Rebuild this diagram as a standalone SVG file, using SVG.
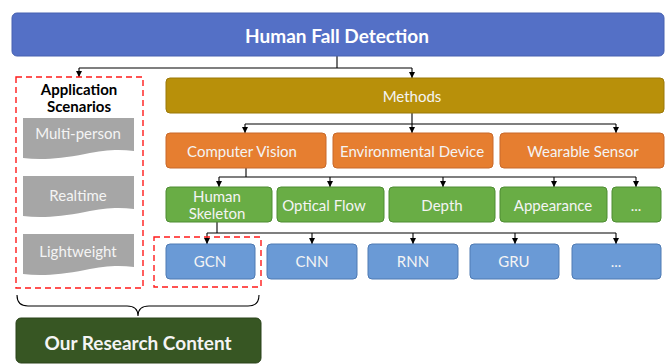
<svg xmlns="http://www.w3.org/2000/svg" width="667" height="364" viewBox="0 0 667 364">
<defs>
<marker id="ah" viewBox="0 0 10 10" refX="10" refY="5" markerWidth="6" markerHeight="6" markerUnits="userSpaceOnUse" orient="auto">
<path d="M0,0 L10,5 L0,10 Z" fill="#000"/>
</marker>
<style>
text{font-family:Lato,"Open Sans","Liberation Sans",sans-serif;text-anchor:middle;dominant-baseline:central}
.w{fill:#f4f4f4;font-size:15px}
.b{font-weight:bold}
.con{fill:none;stroke:#000;stroke-width:1.1}
.arr{fill:none;stroke:#000;stroke-width:1.1;marker-end:url(#ah)}
.dash{fill:none;stroke:#ff1a1a;stroke-width:1.4;stroke-dasharray:6,4}
.org{fill:#E67E30;stroke:#C8692A;stroke-width:1}
.grn{fill:#69AD45;stroke:#4E8C33;stroke-width:1}
.blu{fill:#6A9AD6;stroke:#4E7AB3;stroke-width:1}
.gry{fill:#A6A6A6}
</style>
</defs>
<g id="connectors">
<path class="con" d="M337,56 V68 M79,68 H412"/>
<path class="arr" d="M79,68 V77"/>
<path class="arr" d="M412,68 V78"/>
<path class="con" d="M412,113 V124 M245,124 H616"/>
<path class="arr" d="M245,124 V133"/>
<path class="arr" d="M412,124 V133"/>
<path class="arr" d="M616,124 V133"/>
<path class="con" d="M246,168 V177 M219,177 H636"/>
<path class="arr" d="M219,177 V187"/>
<path class="arr" d="M330,177 V187"/>
<path class="arr" d="M443,177 V187"/>
<path class="arr" d="M554,177 V187"/>
<path class="arr" d="M636,177 V187"/>
<path class="con" d="M217,222 V233 M207,233 H616"/>
<path class="arr" d="M207,233 V244"/>
<path class="arr" d="M312,233 V244"/>
<path class="arr" d="M413,233 V244"/>
<path class="arr" d="M515,233 V244"/>
<path class="arr" d="M616,233 V244"/>
<path class="con" d="M17,295 Q17,306 28,306 H127 Q138,306 138,316 Q138,306 149,306 H248 Q259,306 259,295"/>
</g>
<g id="hfd">
<rect x="12" y="13" width="652" height="43" rx="5" fill="#5470C6" stroke="#4660B0"/>
<text x="337" y="35" class="b" font-size="19" fill="#fff">Human Fall Detection</text>
</g>
<g id="app">
<rect class="dash" x="16" y="77" width="127" height="211"/>
<text x="79" y="89" class="b" font-size="15" fill="#000">Application</text>
<text x="79" y="106" class="b" font-size="15" fill="#000">Scenarios</text>
</g>
<g id="multi">
<path class="gry" d="M23,118 H134 V151 C118,149 105,150 85,154 C60,159 40,160 23,158 Z"/>
<text x="78" y="133" class="w">Multi-person</text>
</g>
<g id="realtime">
<path class="gry" d="M23,176 H134 V209 C118,207 105,208 85,212 C60,217 40,218 23,216 Z"/>
<text x="78" y="195" class="w">Realtime</text>
</g>
<g id="light">
<path class="gry" d="M23,234 H134 V267 C118,265 105,266 85,270 C60,275 40,276 23,274 Z"/>
<text x="78" y="251" class="w">Lightweight</text>
</g>
<g id="methods">
<rect x="166" y="78" width="498" height="35" rx="4" fill="#B8900A" stroke="#9A7808"/>
<text x="412" y="96" class="w">Methods</text>
</g>
<g id="cv">
<rect class="org" x="166" y="133" width="160" height="35" rx="4"/>
<text x="242" y="151" class="w">Computer Vision</text>
</g>
<g id="env">
<rect class="org" x="333" y="133" width="160" height="35" rx="4"/>
<text x="412" y="151" class="w">Environmental Device</text>
</g>
<g id="wear">
<rect class="org" x="500" y="133" width="164" height="35" rx="4"/>
<text x="583" y="151" class="w">Wearable Sensor</text>
</g>
<g id="skel">
<rect class="grn" x="166" y="187" width="106" height="35" rx="4"/>
<text x="217" y="196" class="w" font-size="13">Human</text>
<text x="217" y="213" class="w" font-size="13">Skeleton</text>
</g>
<g id="optical">
<rect class="grn" x="277" y="187" width="107" height="35" rx="4"/>
<text x="324" y="205" class="w">Optical Flow</text>
</g>
<g id="depth">
<rect class="grn" x="389" y="187" width="106" height="35" rx="4"/>
<text x="442" y="205" class="w">Depth</text>
</g>
<g id="appearance">
<rect class="grn" x="500" y="187" width="107" height="35" rx="4"/>
<text x="553" y="205" class="w">Appearance</text>
</g>
<g id="dots1">
<rect class="grn" x="612" y="187" width="49" height="35" rx="4"/>
<text x="636" y="205" class="w">...</text>
</g>
<g id="gcn">
<rect class="dash" x="154" y="237" width="107" height="50"/>
<rect class="blu" x="166" y="244" width="89" height="35" rx="4"/>
<text x="210" y="261" class="w">GCN</text>
</g>
<g id="cnn">
<rect class="blu" x="267" y="244" width="90" height="35" rx="4"/>
<text x="312" y="261" class="w">CNN</text>
</g>
<g id="rnn">
<rect class="blu" x="368" y="244" width="90" height="35" rx="4"/>
<text x="413" y="261" class="w">RNN</text>
</g>
<g id="gru">
<rect class="blu" x="470" y="244" width="89" height="35" rx="4"/>
<text x="514" y="261" class="w">GRU</text>
</g>
<g id="dots2">
<rect class="blu" x="572" y="244" width="89" height="35" rx="4"/>
<text x="616" y="261" class="w">...</text>
</g>
<g id="research">
<rect x="16" y="318" width="245" height="45" rx="5" fill="#375623" stroke="#2A421A"/>
<text x="138" y="342" class="b" font-size="19" fill="#f4f4f4">Our Research Content</text>
</g>
</svg>
